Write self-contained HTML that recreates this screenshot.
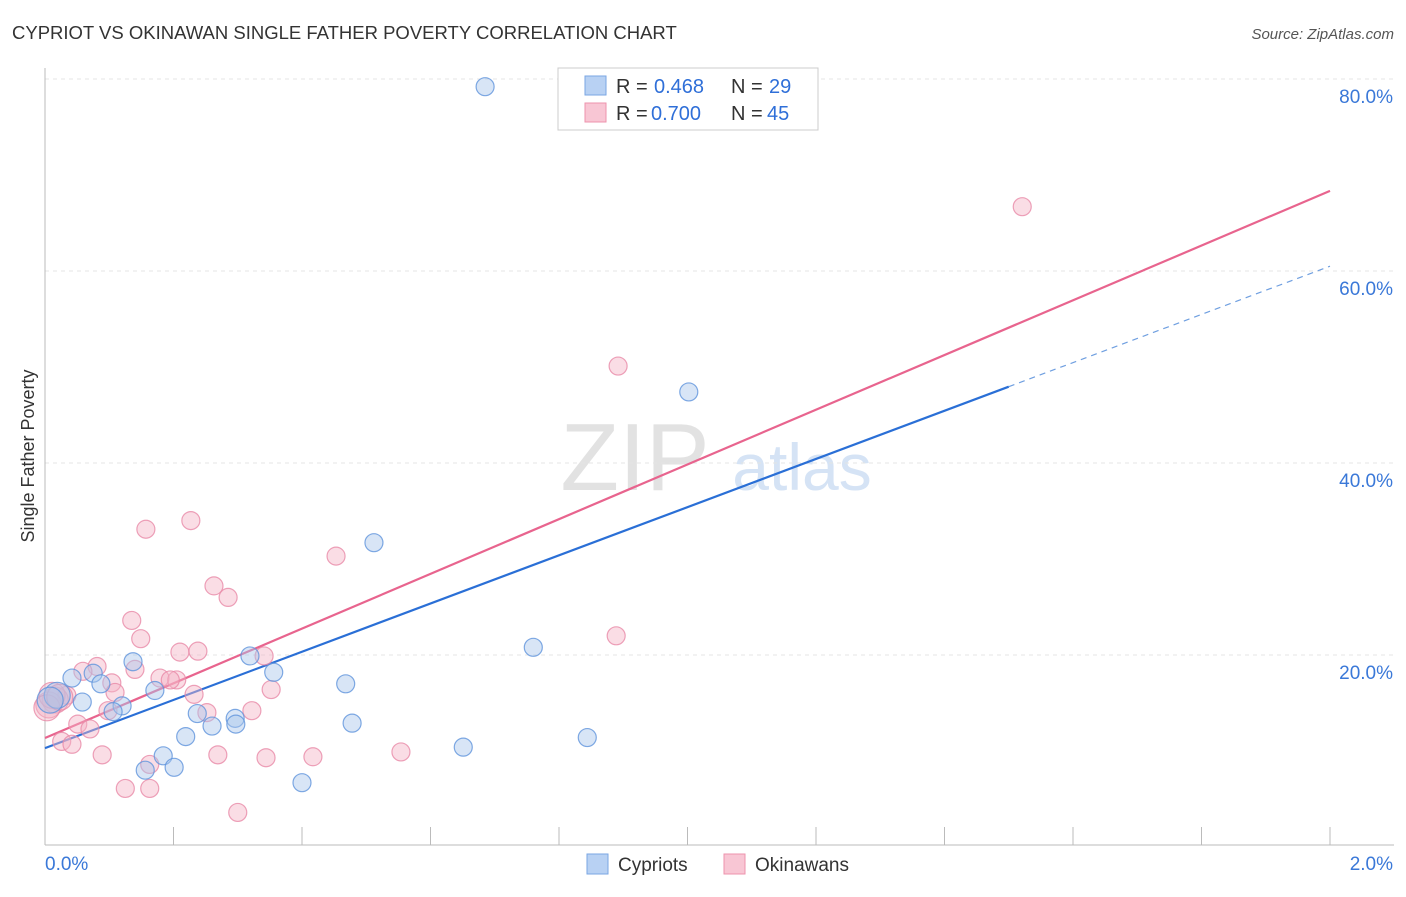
<!DOCTYPE html>
<html><head><meta charset="utf-8"><style>
body{margin:0;background:#fff;font-family:"Liberation Sans",sans-serif;}
svg text{font-family:"Liberation Sans",sans-serif;}
</style></head><body>
<svg id="chart" width="1406" height="892" viewBox="0 0 1406 892" xmlns="http://www.w3.org/2000/svg">
<text x="12" y="39" font-size="18.5" fill="#333">CYPRIOT VS OKINAWAN SINGLE FATHER POVERTY CORRELATION CHART</text>
<text x="1394" y="39" font-size="15" fill="#555" font-style="italic" text-anchor="end">Source: ZipAtlas.com</text>
<g>
<text x="635" y="490" font-size="96" fill="#e2e2e2" font-family="Liberation Serif,serif" text-anchor="middle">ZIP</text>
<text x="802" y="490" font-size="66" fill="#d5e3f5" text-anchor="middle">atlas</text>
</g>
<g id="grid"></g>
<g id="axes"></g>
<g id="lines"></g>
<g id="points"></g>
<text transform="translate(34,456) rotate(-90)" font-size="18" fill="#333" text-anchor="middle">Single Father Poverty</text>
<g>
<rect x="558" y="68" width="260" height="62" fill="#fff" stroke="#ccc"/>
<rect x="585" y="76" width="21" height="19" fill="#b8d1f3" stroke="#7aa6e3"/>
<text x="616" y="93" font-size="20" fill="#333">R =</text>
<text x="654" y="93" font-size="20" fill="#2f6fd8">0.468</text>
<text x="731" y="93" font-size="20" fill="#333">N =</text>
<text x="769" y="93" font-size="20" fill="#2f6fd8">29</text>
<rect x="585" y="103" width="21" height="19" fill="#f8c6d4" stroke="#ee93ad"/>
<text x="616" y="120" font-size="20" fill="#333">R =</text>
<text x="651" y="120" font-size="20" fill="#2f6fd8">0.700</text>
<text x="731" y="120" font-size="20" fill="#333">N =</text>
<text x="767" y="120" font-size="20" fill="#2f6fd8">45</text>
</g>
<g>
<rect x="587" y="854" width="21" height="20" fill="#b8d1f3" stroke="#7aa6e3"/>
<text x="618" y="871" font-size="19" fill="#333">Cypriots</text>
<rect x="724" y="854" width="21" height="20" fill="#f8c6d4" stroke="#ee93ad"/>
<text x="755" y="871" font-size="19" fill="#333">Okinawans</text>
</g>
</svg>
<script>
const xTicks=[0,0.2,0.4,0.6,0.8,1.0,1.2,1.4,1.6,1.8,2.0];
const xTickLabels=["0.0%","2.0%"];
const yTicks=[20,40,60,80];
const yTickLabels=["20.0%","40.0%","60.0%","80.0%"];
const cypX=[0.685,1.002,0.512,0.760,0.319,0.356,0.468,0.137,0.171,0.042,0.075,0.087,0.058,0.019,0.008,0.120,0.106,0.237,0.296,0.297,0.260,0.478,0.219,0.651,0.844,0.184,0.156,0.201,0.400];
const cypY=[79.2,47.4,31.7,20.8,19.9,18.2,17.0,19.3,16.3,17.6,18.1,17.0,15.1,15.8,15.3,14.7,14.1,13.9,13.4,12.8,12.6,12.9,11.5,10.4,11.4,9.5,8.0,8.3,6.7];
const okiX=[1.521,0.892,0.227,0.157,0.453,0.263,0.285,0.135,0.149,0.889,0.210,0.238,0.341,0.081,0.059,0.140,0.179,0.205,0.104,0.109,0.232,0.352,0.034,0.016,0.006,0.098,0.252,0.322,0.051,0.070,0.026,0.042,0.089,0.269,0.344,0.417,0.554,0.163,0.163,0.125,0.300,0.011,0.003,0.023,0.195];
const okiY=[66.7,50.1,34.0,33.1,30.3,27.2,26.0,23.6,21.7,22.0,20.3,20.4,19.9,18.8,18.3,18.5,17.6,17.4,17.1,16.1,15.9,16.4,15.8,15.3,14.8,14.2,14.0,14.2,12.8,12.3,11.0,10.7,9.6,9.6,9.3,9.4,9.9,8.6,6.1,6.1,3.6,15.8,14.5,15.6,17.4];
const cypFit=[10.3,25.1]; // intercept, slope
const okiFit=[11.35,28.5];
const cypFitEnd=1.5;

const X=v=>45+v*642.5, Y=v=>847-v*9.6;
const NS="http://www.w3.org/2000/svg";
function mk(tag,attrs,parent){const e=document.createElementNS(NS,tag);for(const k in attrs)e.setAttribute(k,attrs[k]);parent.appendChild(e);return e;}
const grid=document.getElementById('grid'),axes=document.getElementById('axes'),lines=document.getElementById('lines'),pts=document.getElementById('points');
yTicks.forEach((t,i)=>{
 const g=mk('line',{x1:45,x2:1394,y1:Y(t),y2:Y(t),stroke:'#e4e4e4','stroke-dasharray':'4,4'},grid);
 
 
 const tx=mk('text',{x:1393,y:Y(t)+24,'font-size':19,fill:'#3a78d8','text-anchor':'end'},axes);
 tx.textContent=yTickLabels[i];
 
 
});
const ax=mk('line',{x1:45,x2:45,y1:68,y2:845,stroke:'#bbb'},axes);


const bx=mk('line',{x1:45,x2:1394,y1:845,y2:845,stroke:'#bbb'},axes);


xTicks.forEach(t=>{
 const l=mk('line',{x1:X(t),x2:X(t),y1:827,y2:845,stroke:'#bbb'},axes);
 
 
});
const xl0=mk('text',{x:45,y:870,'font-size':19,fill:'#3a78d8'},axes);xl0.textContent=xTickLabels[0];


const xl1=mk('text',{x:1393,y:870,'font-size':19,fill:'#3a78d8','text-anchor':'end'},axes);xl1.textContent=xTickLabels[1];



function addPts(xs,ys,fill,stroke,name){
 xs.forEach((x,i)=>{
  const r=(x<0.03&&ys[i]>14&&ys[i]<16)?13:9;
  const c=mk('circle',{cx:X(x),cy:Y(ys[i]),r:r,fill:fill,'fill-opacity':0.45,stroke:stroke,'stroke-width':1.2,'stroke-opacity':0.8},pts);
  
  
 });
}
addPts(okiX,okiY,'#f5b3c6','#e98aa8','okinawan-point');
addPts(cypX,cypY,'#a9c5ec','#5f93dc','cypriot-point');

const pl=mk('line',{x1:X(0),y1:Y(okiFit[0]),x2:X(2),y2:Y(okiFit[0]+okiFit[1]*2),stroke:'#e8648e','stroke-width':2.2},lines);


const bl=mk('line',{x1:X(0),y1:Y(cypFit[0]),x2:X(cypFitEnd),y2:Y(cypFit[0]+cypFit[1]*cypFitEnd),stroke:'#2a6fd6','stroke-width':2.2},lines);


const bd=mk('line',{x1:X(cypFitEnd),y1:Y(cypFit[0]+cypFit[1]*cypFitEnd),x2:X(2),y2:Y(cypFit[0]+cypFit[1]*2),stroke:'#6f9fe0','stroke-width':1.2,'stroke-dasharray':'6,5'},lines);


</script>
</body></html>
